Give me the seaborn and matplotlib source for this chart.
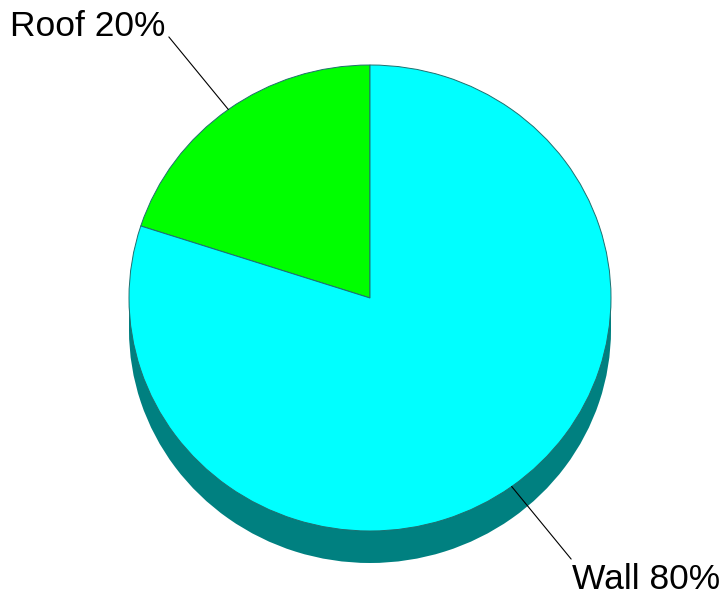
import numpy as np
import matplotlib
matplotlib.use("Agg")
import matplotlib.pyplot as plt
import seaborn as sns

# Data
labels = ["Roof", "Wall"]
shares = [20, 80]
top_colors = ["#00ff00", "#00ffff"]
side_color = "#008080"

sns.set_style("white")
plt.rcParams["font.family"] = ["Liberation Sans", "DejaVu Sans"]

# pixel geometry of the reference (722 x 598)
W, H = 722, 598
CX, CY = 370, 298
RX, RY = 241, 233
DEPTH = 32

fig = plt.figure(figsize=(W / 100, H / 100), dpi=100)
ax = fig.add_axes([0, 0, 1, 1])
d = DEPTH / RY

# side (depth) of the pie
ax.pie(shares, colors=[side_color] * len(shares), startangle=90,
       counterclock=True, radius=1, center=(0, -d),
       wedgeprops=dict(linewidth=0), frame=True)
ax.fill_between([-1, 1], [-d, -d], [0, 0], color=side_color, linewidth=0)

# top face
wedges, _ = ax.pie(shares, colors=top_colors, startangle=90,
                   counterclock=True, radius=1, center=(0, 0),
                   wedgeprops=dict(edgecolor="#1f6f6f", linewidth=0.7),
                   frame=True)

# data units: x in RX pixels, y in RY pixels, origin at pie centre
ax.set_aspect("auto")
ax.set_xlim(-CX / RX, (W - CX) / RX)
ax.set_ylim(-(H - CY) / RY, CY / RY)
ax.axis("off")

# leader lines and labels
for w, lab, val in zip(wedges, labels, shares):
    mid = np.deg2rad((w.theta1 + w.theta2) / 2)
    x0, y0 = np.cos(mid), np.sin(mid)
    x1, y1 = 1.42 * x0, 1.385 * y0
    ax.plot([x0, x1], [y0, y1], color="black", linewidth=0.8)
    if x0 < 0:
        # text sits above-left of the line end
        ax.text(x1 - 3 / RX, y1 + 1 / RY, f"{lab} {val}%", ha="right",
                va="baseline", fontsize=25.5, color="black")
    else:
        # text sits below-right of the line end
        ax.text(x1 + 1 / RX, y1 - 30 / RY, f"{lab} {val}%", ha="left",
                va="baseline", fontsize=25.5, color="black")

fig.savefig("out.png", dpi=100)
